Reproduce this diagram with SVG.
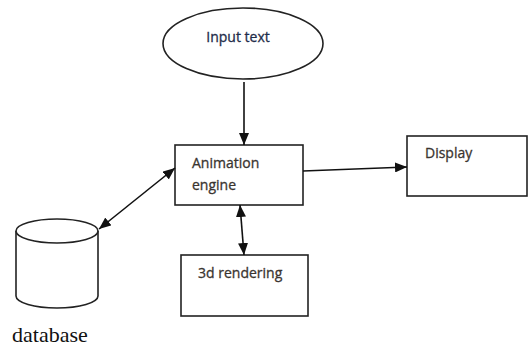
<svg xmlns="http://www.w3.org/2000/svg" width="531" height="348" viewBox="0 0 531 348">
<style>
.shape{fill:#fff;stroke:#222;stroke-width:1.6}
.lbl{font-family:"Open Sans","Liberation Sans",sans-serif;font-size:14px;fill:#3a3530;stroke:#3a3530;stroke-width:0.3}
.conn{stroke:#111;stroke-width:1.6;fill:none}
</style>
<defs>
<marker id="ah" viewBox="0 0 12 10" refX="12" refY="5" markerWidth="12" markerHeight="10" markerUnits="userSpaceOnUse" orient="auto-start-reverse">
<path d="M0,0 L12,5 L0,10 z" fill="#111"/>
</marker>
</defs>
<rect width="531" height="348" fill="#fff"/>
<g id="input-text">
<ellipse class="shape" cx="243" cy="43.5" rx="80" ry="35.5"/>
<text class="lbl" x="238" y="42" text-anchor="middle" style="fill:#1f2d4a;stroke:#1f2d4a">Input text</text>
</g>
<g id="animation-engine">
<rect class="shape" x="175" y="145" width="128" height="60"/>
<text class="lbl" x="192" y="168">Animation</text>
<text class="lbl" x="192" y="190">engine</text>
</g>
<g id="display">
<rect class="shape" x="407" y="136" width="120" height="60"/>
<text class="lbl" x="425" y="158">Display</text>
</g>
<g id="rendering">
<rect class="shape" x="181" y="255" width="127" height="61"/>
<text class="lbl" x="198" y="278">3d rendering</text>
</g>
<g id="database">
<path class="shape" d="M16,231 L16,296 A41,12 0 0 0 98,296 L98,231"/>
<ellipse class="shape" cx="57" cy="231" rx="41" ry="12"/>
<text x="12" y="342" style="font-family:'Liberation Serif',serif;font-size:22px;fill:#111">database</text>
</g>
<g id="connectors">
<line class="conn" x1="244" y1="82" x2="244" y2="145" marker-end="url(#ah)"/>
<line class="conn" x1="303" y1="171" x2="407" y2="167" marker-end="url(#ah)"/>
<line class="conn" x1="240" y1="205" x2="244" y2="255" marker-start="url(#ah)" marker-end="url(#ah)"/>
<line class="conn" x1="99" y1="229" x2="175" y2="168" marker-start="url(#ah)" marker-end="url(#ah)"/>
</g>
</svg>
